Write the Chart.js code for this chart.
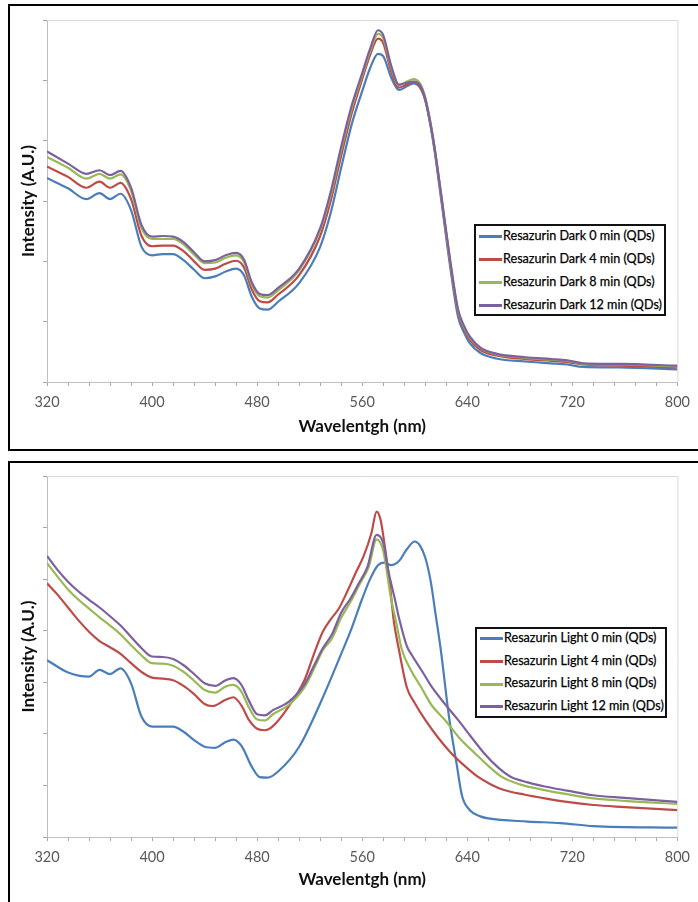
<!DOCTYPE html>
<html>
<head>
<meta charset="utf-8">
<script src="https://cdn.jsdelivr.net/npm/chart.js@4.4.1/dist/chart.umd.min.js"></script>
<style>
  html, body { margin: 0; padding: 0; background: #fff; }
  body { width: 698px; height: 902px; position: relative; overflow: hidden; font-family: Lato, "Open Sans", sans-serif; }
  .panel { position: absolute; left: 8px; width: 720px; border: 2px solid #000; box-sizing: border-box; }
  .wrap { position: absolute; left: 0; width: 698px; height: 451px; }
  .legend { position: absolute; border: 2px solid #111; background: #fff; box-sizing: border-box; }
  .legend .row { position: absolute; left: 3px; height: 20px; line-height: 20px; white-space: nowrap; font-size: 12.6px; color: #000; -webkit-text-stroke: 0.25px #000; }
  .legend .sample { display: inline-block; width: 23px; height: 3px; vertical-align: middle; margin-right: 1px; }
</style>
</head>
<body>
<div class="panel" style="top:4px;height:447px"></div>
<div class="panel" style="top:461px;height:460px"></div>
<div class="wrap" style="top:0"><canvas id="darkChart" width="698" height="451"></canvas></div>
<div class="wrap" style="top:451px"><canvas id="lightChart" width="698" height="451"></canvas></div>
<div class="legend" id="darkLegend" style="left:474px;top:224px;width:192px;height:92px"></div>
<div class="legend" id="lightLegend" style="left:475px;top:627px;width:192px;height:91px"></div>

<script>
// ---- data (intensity in arbitrary units) ----
const colores = ['#4a7ebb', '#be4b48', '#98b954', '#7d60a0'];

// top chart: dark, all four spectra read at the same wavelengths
const darkNm = [320, 336, 350, 360, 368, 376, 384, 392, 400, 408,
    416, 424, 432, 440, 448, 456, 464, 470, 476, 482,
    488, 496, 512, 528, 536, 544, 552, 560, 566, 572,
    576, 582, 588, 594, 599, 604, 608, 612, 615, 620,
    627, 633, 638, 642, 650, 662, 684, 704, 716, 728,
    756, 800];
const dark0 = [3.38, 3.21, 3.03, 3.13, 3.03, 3.12, 2.85, 2.24, 2.10, 2.12,
    2.12, 2.02, 1.86, 1.72, 1.75, 1.83, 1.88, 1.77, 1.41, 1.22,
    1.20, 1.33, 1.64, 2.24, 2.80, 3.55, 4.27, 4.82, 5.20, 5.44,
    5.40, 5.05, 4.84, 4.90, 4.95, 4.88, 4.67, 4.25, 3.85, 3.05,
    1.91, 1.08, 0.80, 0.64, 0.48, 0.39, 0.34, 0.31, 0.29, 0.25,
    0.24, 0.21];
const dark4 = [3.57, 3.40, 3.22, 3.32, 3.22, 3.30, 3.03, 2.42, 2.25, 2.26,
    2.26, 2.17, 2.00, 1.86, 1.88, 1.96, 2.01, 1.90, 1.53, 1.34,
    1.32, 1.45, 1.77, 2.42, 3.00, 3.75, 4.45, 5.02, 5.42, 5.69,
    5.62, 5.15, 4.88, 4.93, 4.96, 4.89, 4.68, 4.27, 3.88, 3.10,
    1.97, 1.15, 0.86, 0.70, 0.53, 0.44, 0.38, 0.35, 0.33, 0.29,
    0.27, 0.24];
const dark8 = [3.73, 3.55, 3.37, 3.45, 3.37, 3.44, 3.17, 2.55, 2.37, 2.37,
    2.37, 2.28, 2.11, 1.97, 1.98, 2.06, 2.10, 1.99, 1.61, 1.42,
    1.40, 1.52, 1.85, 2.52, 3.10, 3.85, 4.53, 5.08, 5.48, 5.77,
    5.70, 5.22, 4.92, 4.98, 5.02, 4.95, 4.72, 4.30, 3.90, 3.12,
    2.00, 1.18, 0.89, 0.73, 0.56, 0.46, 0.40, 0.37, 0.35, 0.30,
    0.29, 0.26];
const dark12 = [3.82, 3.62, 3.45, 3.51, 3.43, 3.50, 3.22, 2.60, 2.41, 2.42,
    2.41, 2.32, 2.15, 2.00, 2.02, 2.10, 2.14, 2.03, 1.65, 1.46,
    1.44, 1.56, 1.88, 2.55, 3.15, 3.90, 4.58, 5.12, 5.52, 5.83,
    5.75, 5.25, 4.93, 4.96, 4.98, 4.92, 4.70, 4.29, 3.90, 3.13,
    2.02, 1.20, 0.91, 0.75, 0.57, 0.47, 0.41, 0.38, 0.36, 0.31,
    0.30, 0.27];
const darkLabels = ['Resazurin Dark 0 min (QDs)', 'Resazurin Dark 4 min (QDs)',
    'Resazurin Dark 8 min (QDs)', 'Resazurin Dark 12 min (QDs)'];

// bottom chart: light, each spectrum has its own wavelengths
const light0Nm = [320, 336, 352, 360, 368, 376, 384, 392, 400, 408,
    416, 424, 432, 440, 448, 456, 462, 468, 476, 482,
    488, 496, 512, 528, 544, 552, 560, 566, 572, 577,
    582, 588, 594, 600, 604, 608, 612, 616, 620, 626,
    632, 636, 642, 650, 656, 686, 711, 736, 800];
const light0 = [3.43, 3.19, 3.11, 3.24, 3.16, 3.27, 2.98, 2.33, 2.14, 2.14,
    2.14, 2.04, 1.88, 1.75, 1.73, 1.84, 1.89, 1.77, 1.36, 1.16,
    1.15, 1.27, 1.75, 2.59, 3.55, 4.05, 4.62, 5.00, 5.27, 5.32,
    5.27, 5.35, 5.58, 5.73, 5.65, 5.42, 4.98, 4.30, 3.60, 2.35,
    1.40, 0.80, 0.52, 0.40, 0.36, 0.30, 0.27, 0.21, 0.18];
const light4Nm = [320, 328, 336, 344, 352, 360, 368, 376, 384, 392,
    400, 408, 416, 424, 432, 440, 446, 456, 462, 468,
    474, 480, 486, 492, 504, 516, 524, 530, 536, 542,
    549, 555, 561, 567, 571, 574, 576, 581, 584, 588,
    594, 600, 608, 618, 628, 638, 648, 658, 668, 684,
    699, 716, 736, 760, 800];
const light4 = [4.92, 4.70, 4.45, 4.20, 3.98, 3.80, 3.68, 3.55, 3.37, 3.20,
    3.09, 3.07, 3.04, 2.93, 2.77, 2.58, 2.54, 2.66, 2.71, 2.55,
    2.26, 2.10, 2.07, 2.15, 2.53, 3.04, 3.60, 3.98, 4.22, 4.42,
    4.78, 5.12, 5.44, 5.89, 6.31, 6.15, 5.85, 4.92, 4.20, 3.63,
    2.90, 2.60, 2.27, 1.92, 1.62, 1.38, 1.17, 1.02, 0.91, 0.82,
    0.75, 0.68, 0.62, 0.58, 0.52];
const light8Nm = [320, 328, 336, 344, 352, 360, 368, 376, 384, 392,
    400, 408, 416, 424, 432, 440, 448, 456, 462, 468,
    474, 480, 486, 492, 504, 516, 524, 530, 537, 544,
    552, 558, 565, 571, 576, 582, 586, 590, 597, 605,
    613, 623, 634, 646, 656, 666, 680, 699, 716, 736,
    760, 800];
const light8 = [5.31, 5.05, 4.80, 4.60, 4.43, 4.26, 4.10, 3.93, 3.72, 3.52,
    3.37, 3.36, 3.32, 3.20, 3.03, 2.85, 2.80, 2.92, 2.95, 2.82,
    2.50, 2.28, 2.26, 2.38, 2.56, 2.90, 3.30, 3.62, 3.85, 4.25,
    4.60, 4.90, 5.24, 5.77, 5.55, 4.62, 4.15, 3.65, 3.24, 2.90,
    2.55, 2.27, 1.92, 1.62, 1.38, 1.17, 1.02, 0.91, 0.83, 0.75,
    0.70, 0.64];
const light12Nm = [320, 328, 336, 344, 352, 360, 368, 376, 384, 392,
    400, 408, 416, 424, 432, 440, 448, 456, 462, 468,
    474, 480, 486, 492, 504, 516, 524, 530, 537, 544,
    551, 557, 564, 571, 576, 580, 585, 588, 594, 598,
    606, 613, 623, 633, 643, 653, 663, 673, 686, 699,
    716, 736, 760, 800];
const light12 = [5.45, 5.18, 4.95, 4.76, 4.60, 4.45, 4.28, 4.10, 3.88, 3.66,
    3.50, 3.49, 3.45, 3.33, 3.16, 2.98, 2.93, 3.04, 3.08, 2.95,
    2.63, 2.38, 2.36, 2.46, 2.62, 2.96, 3.36, 3.66, 3.93, 4.35,
    4.62, 4.90, 5.24, 5.86, 5.70, 5.15, 4.60, 4.25, 3.70, 3.52,
    3.20, 2.91, 2.58, 2.27, 1.94, 1.62, 1.36, 1.17, 1.06, 0.98,
    0.90, 0.81, 0.76, 0.68];
const lightLabels = ['Resazurin Light 0 min (QDs)', 'Resazurin Light 4 min (QDs)',
    'Resazurin Light 8 min (QDs)', 'Resazurin Light 12 min (QDs)'];

const xMin = 320, xMax = 800, xStep = 16, xLabelStep = 80;

Chart.defaults.font.family = 'Lato, "Open Sans", sans-serif';
Chart.defaults.animation = false;

function serie(label, nm, vals, i) {
    return {
        label: label,
        data: nm.map((x, k) => ({ x: x, y: vals[k] })),
        borderColor: colores[i],
        backgroundColor: colores[i],
        borderWidth: 2.2,
        pointRadius: 0,
        fill: false,
        cubicInterpolationMode: 'monotone',
        order: 3 - i   // later series on top, like excel
    };
}

// light grey frame on the top and right of the plot area
const marcoPlot = {
    id: 'marcoPlot',
    beforeDatasetsDraw(chart) {
        const a = chart.chartArea, ctx = chart.ctx;
        ctx.save();
        ctx.strokeStyle = '#d9d9d9';
        ctx.lineWidth = 1;
        ctx.beginPath();
        ctx.moveTo(a.left, a.top + 0.5);
        ctx.lineTo(a.right + 0.5, a.top + 0.5);
        ctx.lineTo(a.right + 0.5, a.bottom);
        ctx.stroke();
        ctx.restore();
    }
};

function opciones(yMax, padTop, xAxisH, titlePadBottom) {
    return {
        responsive: false,
        layout: { padding: { top: padTop, right: 18, left: 0, bottom: 0 } },
        plugins: { legend: { display: false }, tooltip: { enabled: false } },
        scales: {
            x: {
                type: 'linear', min: xMin, max: xMax,
                afterFit: s => { s.height = xAxisH; },
                border: { color: '#bfbfbf', width: 1 },
                grid: { drawOnChartArea: false, drawTicks: true, tickLength: 4, color: '#a6a6a6' },
                ticks: {
                    stepSize: xStep, autoSkip: false, maxRotation: 0, padding: 8,
                    color: '#595959', font: { size: 14.5 },
                    callback: v => (v % xLabelStep === 0 ? v : '')
                },
                title: {
                    display: true, text: 'Wavelentgh (nm)', color: '#111',
                    font: { size: 17, weight: 'bold' }, padding: { top: 0, bottom: titlePadBottom }
                }
            },
            y: {
                min: 0, max: yMax,
                afterFit: s => { s.width = 47; },
                border: { color: '#bfbfbf', width: 1 },
                grid: { drawOnChartArea: false, drawTicks: true, tickLength: 4, color: '#a6a6a6' },
                ticks: { stepSize: 1, display: false },
                title: {
                    display: true, text: 'Intensity (A.U.)', color: '#111',
                    font: { size: 17, weight: 'bold' }, padding: { top: 18, bottom: 0 }
                }
            }
        }
    };
}

const darkChart = new Chart(document.getElementById('darkChart').getContext('2d'), {
    type: 'line',
    data: {
        datasets: [
            serie(darkLabels[0], darkNm, dark0, 0),
            serie(darkLabels[1], darkNm, dark4, 1),
            serie(darkLabels[2], darkNm, dark8, 2),
            serie(darkLabels[3], darkNm, dark12, 3)
        ]
    },
    options: opciones(6, 20, 69, 14),
    plugins: [marcoPlot]
});

const lightChart = new Chart(document.getElementById('lightChart').getContext('2d'), {
    type: 'line',
    data: {
        datasets: [
            serie(lightLabels[0], light0Nm, light0, 0),
            serie(lightLabels[1], light4Nm, light4, 1),
            serie(lightLabels[2], light8Nm, light8, 2),
            serie(lightLabels[3], light12Nm, light12, 3)
        ]
    },
    options: opciones(7, 25, 65, 12),
    plugins: [marcoPlot]
});

// html legend built from the datasets, boxed like the excel one
function leyenda(chart, id, first, gap) {
    const box = document.getElementById(id);
    chart.data.datasets.forEach((ds, i) => {
        const row = document.createElement('div');
        row.className = 'row';
        row.style.top = (first - 10 + gap * i) + 'px';
        row.innerHTML = '<span class="sample" style="background:' + ds.borderColor + '"></span>' + ds.label;
        box.appendChild(row);
    });
}
leyenda(darkChart, 'darkLegend', 10, 23);
leyenda(lightChart, 'lightLegend', 9, 22.7);
</script>
</body>
</html>
